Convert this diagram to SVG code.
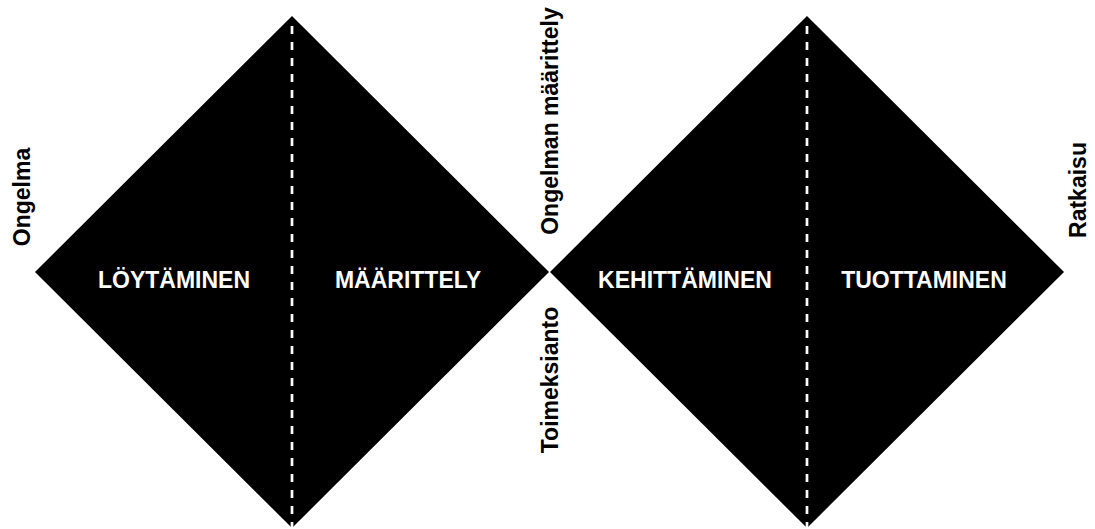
<svg xmlns="http://www.w3.org/2000/svg" width="1095" height="529" viewBox="0 0 1095 529">
<style>
.d{fill:#000}
.dash{stroke:#fff;stroke-width:2.7;stroke-dasharray:8 8;fill:none}
.in{font-family:"Liberation Sans",Arial,sans-serif;font-weight:bold;font-size:23px;fill:#fff;text-anchor:middle}
.out{font-family:"Liberation Sans",Arial,sans-serif;font-weight:bold;font-size:23px;fill:#000;text-anchor:middle}
</style>
<rect width="1095" height="529" fill="#fff"/>
<g id="diamond1">
<polygon class="d" points="292,16 549,272 292,528 35,272"/>
</g>
<g id="diamond2">
<polygon class="d" points="807,16 1064,272 807,528 550,272"/>
</g>
<g id="connectors">
<line class="dash" x1="292" y1="26" x2="292" y2="529"/>
<line class="dash" x1="807" y1="26" x2="807" y2="529"/>
</g>
<g id="node-loytaminen"><text class="in" x="174" y="288">LÖYTÄMINEN</text></g>
<g id="node-maarittely"><text class="in" x="408" y="288">MÄÄRITTELY</text></g>
<g id="node-kehittaminen"><text class="in" x="685" y="288">KEHITTÄMINEN</text></g>
<g id="node-tuottaminen"><text class="in" x="924" y="288">TUOTTAMINEN</text></g>
<g id="label-ongelma"><text class="out" transform="translate(30,197) rotate(-90)">Ongelma</text></g>
<g id="label-ongelman-maarittely"><text class="out" transform="translate(558,121) rotate(-90)">Ongelman määrittely</text></g>
<g id="label-toimeksianto"><text class="out" transform="translate(558,380) rotate(-90)">Toimeksianto</text></g>
<g id="label-ratkaisu"><text class="out" transform="translate(1086,190) rotate(-90)">Ratkaisu</text></g>
</svg>
